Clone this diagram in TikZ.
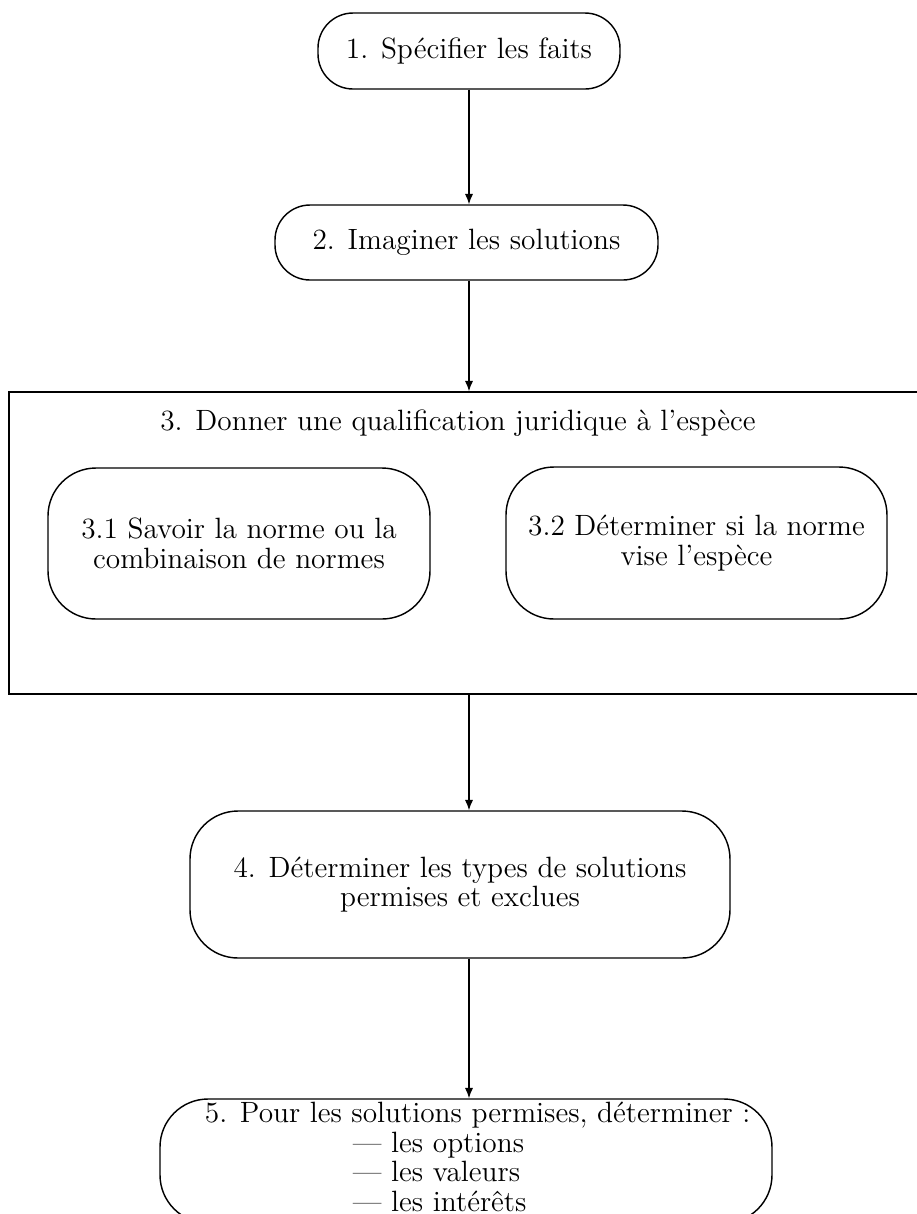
\documentclass[tikz,border=0pt]{standalone}
\usetikzlibrary{arrows.meta}
% one drawing unit = one pixel of the 916 x 1214 page
\def\unitpx{0.385pt}
\begin{document}
\begin{tikzpicture}[x=0.385pt,y=-0.385pt,
  every node/.style={align=center, inner sep=0pt, font=\fontsize{11.3}{11.4}\selectfont},
  size/.style 2 args={minimum width=#1*\unitpx, minimum height=#2*\unitpx},
  stage/.style={draw, line width=0.55pt, rounded corners=13.5pt},
  substage/.style={draw, line width=0.55pt, rounded corners=18.5pt},
  frame/.style={draw, line width=0.55pt},
  flow/.style={draw, line width=0.55pt, -{Latex[length=4pt,width=3.2pt]}}]
\useasboundingbox (0,0) rectangle (916,1214);

% main steps
\node[stage, size={302}{76}] (faits) at (469,51) {1. Spécifier les faits};
\node[stage, size={383}{75}] (solutions) at (466.5,242.5) {2. Imaginer les solutions};

% step 3 with its two sub-steps
\node[frame, size={921}{302}] (qualif) at (469.5,543) {};
\node (qualiftitle) at (458,423) {3. Donner une qualification juridique à l'espèce};
\node[substage, size={382}{151}] (norme) at (239,543.5)
  {3.1 Savoir la norme ou la\\combinaison de normes};
\node[substage, size={381}{152}] (vise) at (696.5,543)
  {3.2 Déterminer si la norme\\vise l'espèce};

\node[substage, size={540}{147}] (types) at (460,884.5)
  {4. Déterminer les types de solutions\\permises et exclues};
\node[substage, size={612}{124}] (permises) at (466,1161)
  {\begin{tabular}{@{\hspace{9pt}}l@{}}
   5. Pour les solutions permises, déterminer~:\\
   \hspace{57pt}--- les options\\
   \hspace{57pt}--- les valeurs\\
   \hspace{57pt}--- les intérêts
   \end{tabular}};

% connectors
\draw[flow] (faits.south) -- (faits.south |- solutions.north);
\draw[flow] (faits.south |- solutions.south) -- (faits.south |- qualif.north);
\draw[flow] (faits.south |- qualif.south) -- (faits.south |- types.north);
\draw[flow] (faits.south |- types.south) -- (faits.south |- permises.north);
\end{tikzpicture}
\end{document}
